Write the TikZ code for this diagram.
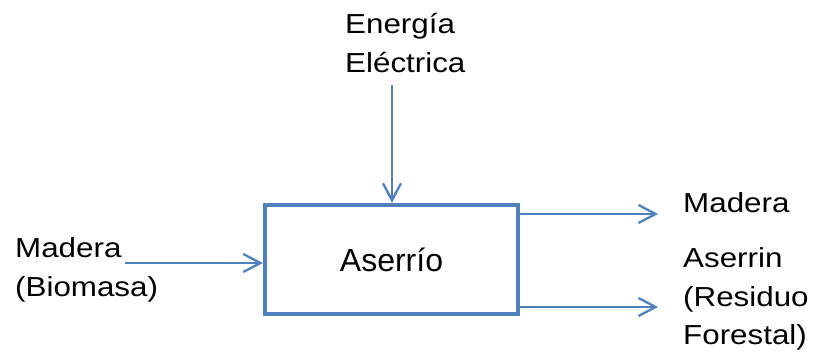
\documentclass[tikz,border=0pt]{standalone}
\usepackage{fontspec}
\setmainfont{Liberation Sans}
\newfontfamily\widefont[FakeStretch=1.14]{Liberation Sans}
\usetikzlibrary{arrows.meta, positioning}
\definecolor{flowblue}{RGB}{79,129,189}

\begin{document}
\begin{tikzpicture}[
  x=1pt, y=-1pt,
  process/.style={draw=flowblue, line width=4.5pt, minimum width=253pt, minimum height=109pt, font=\fontsize{32}{40}\selectfont},
  flowtext/.style={anchor=north west, inner sep=0pt, align=left, font=\widefont\fontsize{27.5}{38.5}\selectfont},
  arrow/.style={-{Straight Barb[length=17pt,width=18pt]}, line width=2.3pt, flowblue}
]
  \useasboundingbox (0,0) rectangle (816,356);

  \node[process] (aserrio) at (391.5,259.5) {Aserrío};

  \node[flowtext] (energia) at (345,13.5) {Energía\\Eléctrica};
  \node[flowtext] (biomasa) at (15,237.5) {Madera\\(Biomasa)};
  \node[flowtext] (madera) at (683,192.5) {Madera};
  \node[flowtext] (aserrin) at (683,247.5) {Aserrin\\(Residuo\\Forestal)};

  % free ends of the flows
  \coordinate (topin) at (392,85);
  \coordinate (leftin) at (125,263);
  \coordinate (outwood) at (658,214);
  \coordinate (outdust) at (658,307);

  \draw[arrow] (topin) -- (topin |- aserrio.north);
  \draw[arrow] (leftin) -- (leftin -| aserrio.west);
  \draw[arrow] (aserrio.east |- outwood) -- (outwood);
  \draw[arrow] (aserrio.east |- outdust) -- (outdust);
\end{tikzpicture}
\end{document}
